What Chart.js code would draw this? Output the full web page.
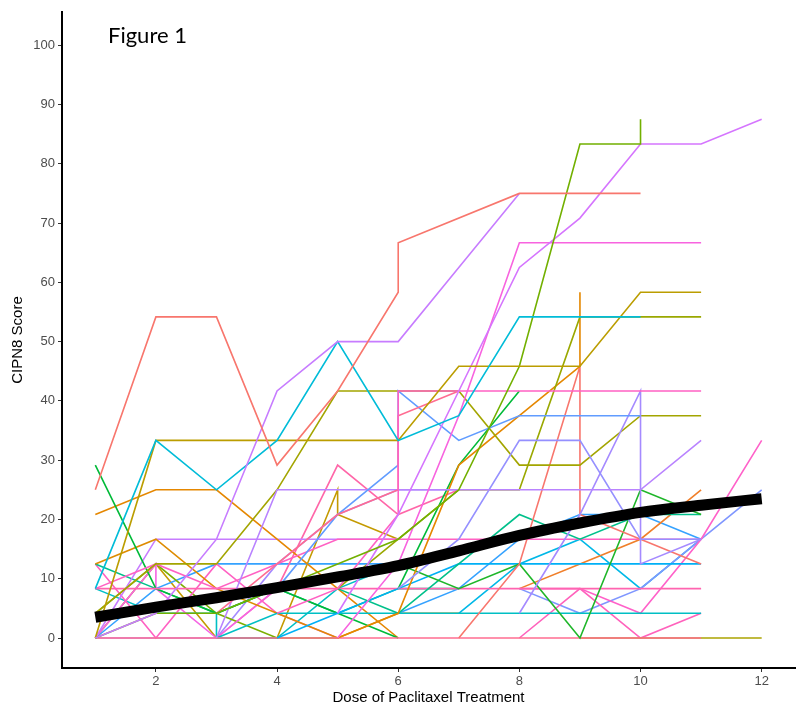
<!DOCTYPE html>
<html>
<head>
<meta charset="utf-8">
<script src="https://cdn.jsdelivr.net/npm/chart.js@4.4.1/dist/chart.umd.min.js"></script>
<style>
  html, body { margin: 0; padding: 0; background: #fff; }
  #wrap { position: relative; width: 800px; height: 710px; }
  #fig { position: absolute; left: 108px; top: 21px; font-family: Lato, "Open Sans", sans-serif; font-size: 22px; color: #000; }
</style>
</head>
<body>
<div id="wrap">
  <canvas id="chart" width="800" height="710"></canvas>
  <div id="fig">Figure 1</div>
</div>
<script>
// ticks
const xTicks = [2, 4, 6, 8, 10, 12];
const yTicks = [0, 10, 20, 30, 40, 50, 60, 70, 80, 90, 100];

// smoothed group trend
const trendDose  = [1, 2, 3, 4, 5, 6, 7, 8, 9, 10, 11, 12];
const trendScore = [3.5, 5.2, 6.8, 8.5, 10.3, 12.2, 14.7, 17.3, 19.4, 21.2, 22.4, 23.5];

// individual patients: [dose, CIPN8 score]
const p01 = [[1,25],[2,54.17],[3,54.17],[4,29.17],[5,41.67],[6,58.33],[6,66.67],[8,75],[9,75],[10,75]];
const p02 = [[1,0],[2,4.17],[3,16.67],[4,41.67],[5,50],[6,50],[7,62.5],[8,75]];
const p03 = [[1,8.33],[2,33.33],[3,25],[4,33.33],[5,50],[6,33.33],[7,37.5],[8,54.17],[9,54.17],[10,54.17]];
const p04 = [[1,0],[2,33.33],[3,33.33],[4,33.33],[5,33.33],[6,33.33],[7,45.83],[8,45.83],[9,45.83],[10,58.33],[11,58.33]];
const p05 = [[1,0],[2,4.17],[3,4.17],[4,8.33],[5,12.5],[6,16.67],[7,25],[8,45.83],[9,83.33],[10,83.33],[10,87.5]];
const p06 = [[5,4.17],[6,20.83],[7,41.67],[8,62.5],[9,70.83],[10,83.33],[11,83.33],[12,87.5]];
const p07 = [[5,0],[6,12.5],[7,37.5],[8,66.67],[9,66.67],[10,66.67],[11,66.67]];
const p08 = [[4,4.17],[5,8.33],[6,20.83],[6,41.67],[7,41.67],[8,41.67],[9,41.67],[10,41.67],[11,41.67]];
const p09 = [[3,4.17],[4,12.5],[5,20.83],[6,25],[6,37.5],[7,41.67]];
const p10 = [[4,8.33],[5,20.83],[6,29.17],[6,41.67],[7,33.33],[8,37.5],[9,37.5],[10,37.5]];
const p11 = [[3,0],[4,25],[5,25],[6,25],[7,25],[8,25],[9,25],[10,25],[11,33.33]];
const p12 = [[6,8.33],[7,16.67],[8,33.33],[9,33.33],[10,16.67],[11,16.67]];
const p13 = [[8,4.17],[9,20.83],[10,41.67],[10,12.5],[11,16.67]];
const p14 = [[1,4.17],[2,12.5],[3,12.5],[4,25],[5,41.67],[6,41.67],[7,41.67],[8,29.17],[9,29.17],[10,37.5],[11,37.5]];
const p15 = [[5,8.33],[6,16.67],[7,25],[8,25],[9,54.17],[10,54.17],[11,54.17]];
const p16 = [[5,0],[6,4.17],[7,29.17],[8,37.5],[9,45.83],[9,58.33]];
const p17 = [[7,0],[8,12.5],[9,45.83],[9,20.83],[10,16.67],[11,12.5]];
const p18 = [[6,8.33],[7,29.17],[8,41.67]];
const p19 = [[6,12.5],[7,8.33],[8,12.5],[9,0],[10,25],[11,20.83]];
const p20 = [[5,8.33],[6,4.17],[7,12.5],[8,20.83],[9,16.67],[10,20.83],[11,20.83]];
const p21 = [[4,0],[5,4.17],[6,8.33],[7,12.5],[8,12.5],[9,12.5],[10,12.5],[11,12.5]];
const p22 = [[1,8.33],[2,12.5],[3,8.33],[4,12.5],[5,16.67],[6,16.67],[7,16.67],[8,16.67],[9,16.67],[10,16.67],[11,16.67]];
const p23 = [[1,8.33],[2,8.33],[3,8.33],[4,8.33],[5,8.33],[6,8.33],[7,8.33],[8,8.33],[9,8.33],[10,8.33],[11,8.33]];
const p24 = [[1,0],[2,0],[3,0],[4,0],[5,0],[6,0],[7,0],[8,0],[9,0],[10,0],[11,0]];
const p25 = [[9,0],[10,0],[11,0],[12,0]];
const p26 = [[3,0],[4,4.17],[5,4.17],[6,4.17],[7,4.17],[8,4.17],[9,4.17],[10,4.17],[11,4.17]];
const p27 = [[8,0],[9,8.33],[10,0],[11,4.17]];
const p28 = [[8,8.33],[9,8.33],[10,4.17],[11,16.67],[12,33.33]];
const p29 = [[8,8.33],[9,4.17],[10,8.33],[11,16.67],[12,25]];
const p30 = [[8,8.33],[9,12.5],[10,16.67],[11,25]];
const p31 = [[6,4.17],[7,8.33],[8,16.67],[9,20.83],[10,20.83],[11,16.67]];
const p32 = [[7,4.17],[8,12.5],[9,16.67],[10,8.33],[11,16.67]];
const p33 = [[1,29.17],[2,8.33],[3,4.17],[4,8.33],[5,4.17],[6,0]];
const p34 = [[1,20.83],[2,25],[3,25],[4,16.67],[5,8.33],[6,0]];
const p35 = [[1,12.5],[2,16.67],[3,8.33],[4,4.17],[5,0],[6,4.17],[7,4.17]];
const p36 = [[1,0],[2,16.67],[3,16.67],[4,16.67],[5,16.67],[6,16.67]];
const p37 = [[1,12.5],[2,8.33],[3,4.17],[4,8.33],[5,4.17],[6,8.33],[7,8.33]];
const p38 = [[1,12.5],[2,0],[3,12.5],[4,4.17],[5,0]];
const p39 = [[1,0],[2,12.5],[2,8.33],[3,0],[4,8.33]];
const p40 = [[1,4.17],[2,12.5],[3,4.17],[4,0],[5,0]];
const p41 = [[3,0],[4,8.33],[5,29.17],[6,20.83],[7,25]];
const p42 = [[1,0],[2,0],[3,0],[4,12.5],[5,20.83],[6,25],[7,25]];
const p43 = [[1,8.33],[2,4.17],[3,4.17],[3,0],[4,0],[5,8.33],[6,12.5]];
const p44 = [[1,0],[2,8.33],[3,12.5],[4,12.5],[5,12.5],[6,12.5]];
const p45 = [[1,0],[2,12.5],[3,0],[4,0],[5,25],[5,20.83],[6,16.67]];

const patientLines = [p01, p02, p03, p04, p05, p06, p07, p08, p09, p10, p11, p12, p13, p14, p15,
  p16, p17, p18, p19, p20, p21, p22, p23, p24, p25, p26, p27, p28, p29, p30,
  p31, p32, p33, p34, p35, p36, p37, p38, p39, p40, p41, p42, p43, p44, p45];

// ggplot-like hues, one per patient line
const lineColors = ["#F8766D", "#C77CFF", "#00BCD8", "#BB9D00", "#72B000", "#D575FE", "#F863DF", "#FF61C3", "#FF6C91",
  "#619CFF", "#B983FF", "#9590FF", "#A58AFF", "#A3A500", "#9AA800", "#E58700", "#F8766D", "#00BA38", "#1FB62A",
  "#00C08B", "#00B0F6", "#FF61C3", "#FF64B0", "#FF6C91", "#ABA300", "#00BFC4", "#FF62BC", "#FF61C9", "#7F96FF",
  "#F07F2A", "#35A2FF", "#00B8E7", "#00BA38", "#E58700", "#DE8C00", "#C77CFF", "#00C08B", "#FF61C3", "#F564E3",
  "#7CAE00", "#FF66A8", "#A58AFF", "#00BFC4", "#35A2FF", "#C49A00"];

const datasets = [{
  data: trendDose.map((d, i) => ({ x: d, y: trendScore[i] })),
  borderColor: "#000",
  borderWidth: 11,
  cubicInterpolationMode: "monotone",
  pointRadius: 0
}];
patientLines.forEach((pts, i) => {
  datasets.push({
    data: pts.map(p => ({ x: p[0], y: p[1] })),
    borderColor: lineColors[i],
    borderWidth: 1.6,
    pointRadius: 0,
    tension: 0
  });
});

const tickFont = { family: "'Liberation Sans', Arial, sans-serif", size: 13 };
const titleFont = { family: "'Liberation Sans', Arial, sans-serif", size: 15 };

new Chart(document.getElementById("chart"), {
  type: "line",
  data: { datasets: datasets },
  options: {
    responsive: false,
    animation: false,
    layout: { padding: { top: 12, right: 5 } },
    plugins: { legend: { display: false }, tooltip: { enabled: false } },
    scales: {
      x: {
        type: "linear",
        min: 0.45,
        max: 12.55,
        afterBuildTicks: axis => { axis.ticks = xTicks.map(v => ({ value: v })); },
        afterFit: axis => { axis.height = 42; },
        grid: { drawOnChartArea: false, drawTicks: true, tickLength: 4, tickColor: "#333" },
        border: { display: true, color: "#000", width: 2 },
        ticks: { color: "#4d4d4d", font: tickFont, padding: 2, maxRotation: 0 },
        title: { display: true, text: "Dose of Paclitaxel Treatment", color: "#000", font: titleFont, padding: { top: 0, bottom: 3 } }
      },
      y: {
        type: "linear",
        min: -5.06,
        max: 105.6,
        afterBuildTicks: axis => { axis.ticks = yTicks.map(v => ({ value: v })); },
        afterFit: axis => { axis.width = 62; },
        grid: { drawOnChartArea: false, drawTicks: true, tickLength: 4, tickColor: "#333" },
        border: { display: true, color: "#000", width: 2 },
        ticks: { color: "#4d4d4d", font: tickFont, padding: 3 },
        title: { display: true, text: "CIPN8 Score", color: "#000", font: titleFont, padding: { top: 9, bottom: 0 } }
      }
    }
  }
});
</script>
</body>
</html>
